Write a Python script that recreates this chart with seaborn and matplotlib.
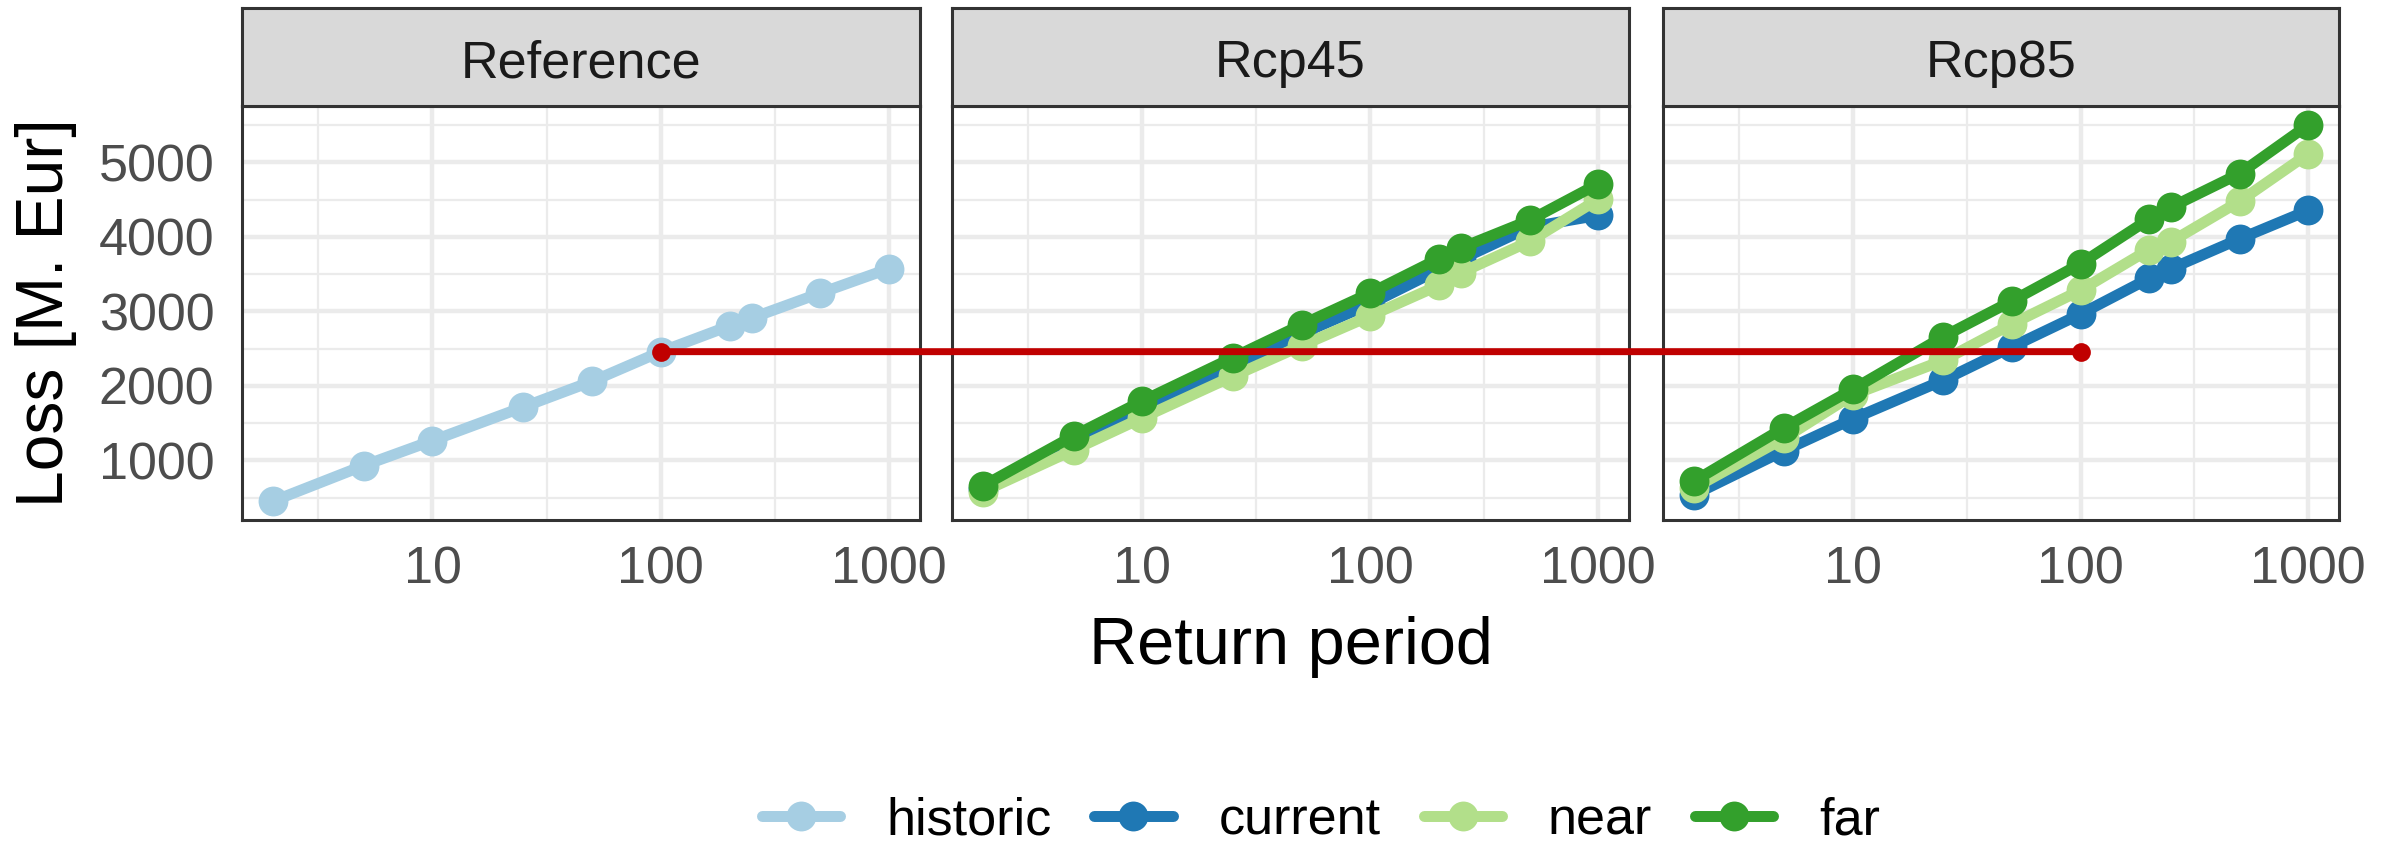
import numpy as np
import pandas as pd
import matplotlib
matplotlib.use("Agg")
import matplotlib.pyplot as plt
import seaborn as sns
from matplotlib.patches import ConnectionPatch
from matplotlib.lines import Line2D
from matplotlib.ticker import NullFormatter

# ---------------- data ----------------
return_periods = [2, 5, 10, 25, 50, 100, 200, 250, 500, 1000]

reference_historic = [453, 931, 1266, 1717, 2062, 2460, 2806, 2912, 3247, 3576]

rcp45_current = [620, 1230, 1700, 2270, 2700, 3100, 3560, 3700, 4130, 4290]
rcp45_near = [580, 1141, 1571, 2130, 2540, 2940, 3350, 3520, 3940, 4506]
rcp45_far = [657, 1329, 1797, 2381, 2822, 3247, 3709, 3853, 4224, 4713]

rcp85_current = [538, 1133, 1558, 2078, 2525, 2965, 3444, 3576, 3975, 4357]
rcp85_near = [628, 1300, 1880, 2344, 2833, 3284, 3831, 3938, 4479, 5117]
rcp85_far = [720, 1441, 1956, 2663, 3141, 3640, 4240, 4400, 4851, 5505]

panels = ["Reference", "Rcp45", "Rcp85"]
scenarios = ["historic", "current", "near", "far"]
scenario_colors = ["#A6CEE3", "#1F78B4", "#B2DF8A", "#33A02C"]

x_ticks = [10, 100, 1000]
x_tick_labels = ["10", "100", "1000"]
y_ticks = [1000, 2000, 3000, 4000, 5000]

highlight_period = 100
highlight_loss = reference_historic[return_periods.index(highlight_period)]

series = {
    ("Reference", "historic"): reference_historic,
    ("Rcp45", "current"): rcp45_current,
    ("Rcp45", "near"): rcp45_near,
    ("Rcp45", "far"): rcp45_far,
    ("Rcp85", "current"): rcp85_current,
    ("Rcp85", "near"): rcp85_near,
    ("Rcp85", "far"): rcp85_far,
}

rows = []
for (panel, scen), vals in series.items():
    for rp, v in zip(return_periods, vals):
        rows.append({"panel": panel, "scenario": scen, "period": rp, "loss": v})
df = pd.DataFrame(rows)

palette = dict(zip(scenarios, scenario_colors))

# ---------------- style ----------------
sns.set_theme(style="white")
plt.rcParams['font.family'] = ['Liberation Sans', 'DejaVu Sans']

W, H = 2397, 846
fig = plt.figure(figsize=(W / 100, H / 100), dpi=100)

panel_x = [(242, 920), (952, 1629), (1663, 2339)]
p_top, p_bot = 106, 520
s_top = 8

# limits with 5 % expansion (ggplot style)
lx = np.log10([min(return_periods), max(return_periods)])
ex = 0.05 * (lx[1] - lx[0])
xlim = (10 ** (lx[0] - ex), 10 ** (lx[1] + ex))
ymin, ymax = df["loss"].min(), df["loss"].max()
ey = 0.05 * (ymax - ymin)
ylim = (ymin - ey, ymax + ey)

red = "#C00000"
grid_col = "#EBEBEB"
border_col = "#333333"
LW = 7.9
MS = 21.5

axes = []
for i, (panel, (x0, x1)) in enumerate(zip(panels, panel_x)):
    ax = fig.add_axes([x0 / W, 1 - p_bot / H, (x1 - x0) / W, (p_bot - p_top) / H])
    axes.append(ax)
    sub = df[df["panel"] == panel]
    order = [s for s in scenarios if s in sub["scenario"].unique()]
    sns.lineplot(data=sub, x="period", y="loss", hue="scenario", hue_order=order,
                 palette=palette, marker="o", markersize=MS, linewidth=LW,
                 markeredgewidth=0, estimator=None, sort=False, legend=False,
                 ax=ax)
    ax.set_xscale("log")
    ax.set_xlim(*xlim)
    ax.set_ylim(*ylim)
    ax.set_xticks(x_ticks)
    ax.set_xticklabels(x_tick_labels)
    ax.set_xticks([10 ** 0.5, 10 ** 1.5, 10 ** 2.5], minor=True)
    ax.xaxis.set_minor_formatter(NullFormatter())
    ax.set_yticks(y_ticks)
    ax.set_yticks([t - 500 for t in y_ticks] + [y_ticks[-1] + 500], minor=True)
    ax.set_axisbelow(True)
    ax.grid(which="major", color=grid_col, linewidth=3.2)
    ax.grid(which="minor", color=grid_col, linewidth=1.6)
    ax.tick_params(which="minor", length=0)
    ax.tick_params(axis="x", which="major", length=11, width=2.4, color=border_col,
                   labelsize=37.5, labelcolor="#4D4D4D", pad=7)
    ax.tick_params(axis="y", which="major", length=12, width=2.4, color=border_col,
                   labelsize=37.5, labelcolor="#4D4D4D", pad=8)
    if i > 0:
        ax.tick_params(axis="y", which="major", length=0, labelleft=False)
    ax.set_xlabel("")
    ax.set_ylabel("")
    for sp in ax.spines.values():
        sp.set_color(border_col)
        sp.set_linewidth(2.2)
        sp.set_visible(True)
    ax.set_facecolor("white")

    # strip
    sax = fig.add_axes([x0 / W, 1 - p_top / H, (x1 - x0) / W, (p_top - s_top) / H])
    sax.set_facecolor("#D9D9D9")
    sax.set_xticks([])
    sax.set_yticks([])
    for sp in sax.spines.values():
        sp.set_color(border_col)
        sp.set_linewidth(2.2)
        sp.set_visible(True)
    fig.text((x0 + x1) / 2 / W, 1 - 77 / H, panel, ha="center", va="baseline",
             fontsize=37.5, color="#1A1A1A")

# highlight line across panels
ax0, ax2 = axes[0], axes[2]
for a in (ax0, ax2):
    a.plot([highlight_period], [highlight_loss], "o", color=red, markersize=13.5,
           markeredgewidth=0, zorder=10, clip_on=False)
con = ConnectionPatch(xyA=(highlight_period, highlight_loss), coordsA=ax0.transData,
                      xyB=(highlight_period, highlight_loss), coordsB=ax2.transData,
                      color=red, linewidth=5.0, zorder=5)
fig.add_artist(con)

# axis titles
fig.text(1291 / W, 1 - 664 / H, "Return period", ha="center", va="baseline",
         fontsize=48, color="black")
fig.text(46 / W, 1 - (p_top + p_bot) / 2 / H, "Loss [M. Eur]", ha="center",
         va="center", rotation=90, fontsize=47.5, color="black")

# legend
handles = [Line2D([0], [0], color=c, linewidth=LW, marker="o", markersize=MS,
                  markeredgewidth=0) for c in scenario_colors]
leg = fig.legend(handles, scenarios, loc="center", bbox_to_anchor=(1321 / W, 1 - 821 / H),
                 ncol=4, frameon=False, fontsize=37.5, handlelength=1.5,
                 handletextpad=0.88, columnspacing=0.83, borderaxespad=0, borderpad=0)
for t in leg.get_texts():
    t.set_color("black")

fig.savefig("out.png", dpi=100, facecolor="white")
